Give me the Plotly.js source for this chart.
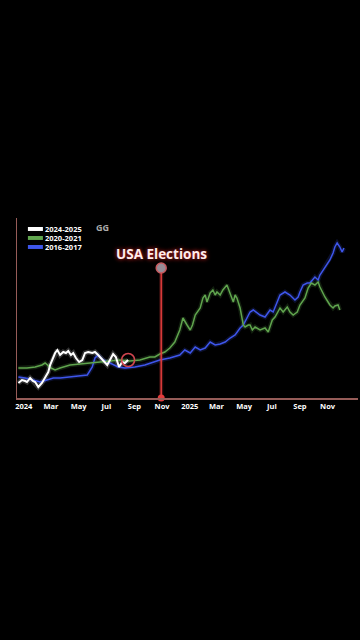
<!DOCTYPE html>
<html>
<head>
<meta charset="utf-8">
<script src="https://cdn.plot.ly/plotly-3.0.1.min.js"></script>
<style>
html,body{margin:0;padding:0;background:#000;}
#chart{width:360px;height:640px;}
</style>
</head>
<body>
<div id="chart"></div>
<script>
// ---- Data (index values, arbitrary units; cycles aligned on the 2024-2025 calendar) ----
const seriesNames = ['2024-2025', '2020-2021', '2016-2017'];

const whiteDates = ['2023-12-20','2023-12-24','2023-12-28','2024-01-04','2024-01-08','2024-01-15','2024-01-21','2024-01-26','2024-02-02','2024-02-10','2024-02-17','2024-02-24','2024-02-28','2024-03-06','2024-03-10','2024-03-15','2024-03-21','2024-03-28','2024-04-03','2024-04-08','2024-04-14','2024-04-19','2024-04-25','2024-05-02','2024-05-09','2024-05-15','2024-05-22','2024-05-31','2024-06-06','2024-06-13','2024-06-19','2024-06-26','2024-07-03','2024-07-09','2024-07-16','2024-07-22','2024-07-29','2024-08-05','2024-08-11','2024-08-18'];
const whiteValues = [15,17,18,17,16,20,17,16,11,15,20,26,33,40,45,48,43,46,45,47,43,45,40,36,38,45,46,45,46,43,40,36,33,38,44,41,31,36,35,38];

const greenDates = ['2023-12-20','2024-01-08','2024-01-26','2024-02-10','2024-02-17','2024-02-24','2024-03-01','2024-03-10','2024-03-21','2024-04-12','2024-05-04','2024-05-26','2024-06-17','2024-07-09','2024-07-31','2024-08-22','2024-09-13','2024-10-05','2024-10-16','2024-10-27','2024-11-07','2024-11-18','2024-11-29','2024-12-10','2024-12-17','2024-12-26','2025-01-02','2025-01-07','2025-01-13','2025-01-24','2025-01-30','2025-02-04','2025-02-08','2025-02-15','2025-02-21','2025-02-26','2025-03-02','2025-03-09','2025-03-15','2025-03-24','2025-03-31','2025-04-07','2025-04-11','2025-04-15','2025-04-22','2025-04-27','2025-04-29','2025-05-03','2025-05-10','2025-05-14','2025-05-19','2025-05-25','2025-06-05','2025-06-16','2025-06-23','2025-07-02','2025-07-08','2025-07-19','2025-07-26','2025-08-04','2025-08-10','2025-08-17','2025-08-26','2025-09-01','2025-09-12','2025-09-19','2025-09-26','2025-10-04','2025-10-11','2025-10-15','2025-10-20','2025-10-26','2025-11-02','2025-11-06','2025-11-13','2025-11-17','2025-11-24','2025-11-28'];
const greenValues = [30,30,31,33,35,32,30,28,30,33,34,35,36,37,38,37,38,41,41,44,46,50,56,68,80,73,68,73,83,90,100,103,96,105,108,103,106,103,108,113,105,96,103,100,90,80,73,71,73,73,68,71,68,70,66,78,81,90,86,91,86,83,86,93,100,110,115,113,116,111,106,101,96,93,90,92,93,88];

const blueDates = ['2023-12-20','2024-01-04','2024-01-21','2024-02-06','2024-02-21','2024-03-06','2024-03-21','2024-04-12','2024-05-04','2024-05-20','2024-05-31','2024-06-06','2024-06-13','2024-06-24','2024-07-09','2024-07-27','2024-08-11','2024-09-02','2024-09-24','2024-10-16','2024-10-27','2024-11-18','2024-12-10','2024-12-21','2025-01-02','2025-01-13','2025-01-24','2025-02-04','2025-02-15','2025-02-26','2025-03-09','2025-03-20','2025-03-31','2025-04-11','2025-04-22','2025-04-29','2025-05-08','2025-05-14','2025-05-21','2025-05-30','2025-06-05','2025-06-16','2025-06-27','2025-07-04','2025-07-13','2025-07-19','2025-07-30','2025-08-10','2025-08-21','2025-08-28','2025-09-01','2025-09-08','2025-09-17','2025-09-23','2025-10-04','2025-10-11','2025-10-15','2025-10-26','2025-11-06','2025-11-13','2025-11-17','2025-11-22','2025-11-28','2025-12-03','2025-12-07'];
const blueValues = [21,20,18,16,18,20,20,21,22,23,31,40,43,38,35,31,30,31,33,36,38,40,43,48,45,51,48,50,56,53,54,56,60,63,70,73,81,86,88,85,83,81,88,86,96,103,106,103,98,101,106,113,115,115,121,118,123,131,138,145,151,155,151,146,150];

const tickDates = ['2024-01-01','2024-03-01','2024-05-01','2024-07-01','2024-09-01','2024-11-01','2025-01-01','2025-03-01','2025-05-01','2025-07-01','2025-09-01','2025-11-01'];
const tickLabels = ['2024','Mar','May','Jul','Sep','Nov','2025','Mar','May','Jul','Sep','Nov'];

const electionDate = '2024-10-30';
const electionLabel = 'USA Elections';
const electionTop = 130;

// ---- Styles ----
const colors = ['#ffffff', 'rgb(96,165,78)', 'rgb(62,86,235)'];
const widths = [2, 1.5, 1.5];
const axisColor = 'rgb(150,92,88)';
const redColor = 'rgb(225,60,60)';

const seriesX = [whiteDates, greenDates, blueDates];
const seriesY = [whiteValues, greenValues, blueValues];

const traces = [];
[2, 1, 0].forEach(i => {
  traces.push({
    x: seriesX[i], y: seriesY[i], type: 'scatter', mode: 'lines',
    line: {color: colors[i], width: widths[i] + 3}, opacity: 0.18,
    hoverinfo: 'skip', showlegend: false
  });
});
[2, 1, 0].forEach(i => {
  traces.push({
    x: seriesX[i], y: seriesY[i], type: 'scatter', mode: 'lines',
    name: seriesNames[i],
    line: {color: colors[i], width: widths[i]},
    showlegend: false
  });
});
traces.push({
  x: [whiteDates[whiteDates.length - 1]], y: [whiteValues[whiteValues.length - 1]],
  type: 'scatter', mode: 'markers',
  marker: {symbol: 'circle-open', size: 13, color: 'rgb(210,70,80)', line: {width: 1.6, color: 'rgb(210,70,80)'}},
  hoverinfo: 'skip', showlegend: false
});
traces.push({
  x: [electionDate, electionDate], y: [0, electionTop], type: 'scatter', mode: 'lines',
  line: {color: redColor, width: 4}, opacity: 0.25, hoverinfo: 'skip', showlegend: false
});
traces.push({
  x: [electionDate, electionDate], y: [0, electionTop], type: 'scatter', mode: 'lines',
  line: {color: redColor, width: 1.5}, hoverinfo: 'skip', showlegend: false
});
traces.push({
  x: [electionDate], y: [0], type: 'scatter', mode: 'markers',
  marker: {size: 7, color: redColor}, hoverinfo: 'skip', showlegend: false, cliponaxis: false
});
traces.push({
  x: [electionDate], y: [electionTop], type: 'scatter', mode: 'markers',
  marker: {size: 10, color: 'rgb(150,140,150)', line: {width: 1.5, color: 'rgb(200,90,95)'}},
  hoverinfo: 'skip', showlegend: false, cliponaxis: false
});

const legendRows = [0.939, 0.889, 0.839];
const shapes = [];
const annotations = [];
seriesNames.forEach((nm, i) => {
  shapes.push({
    type: 'rect', xref: 'paper', yref: 'paper',
    x0: 0.032, x1: 0.076, y0: legendRows[i] - 0.011, y1: legendRows[i] + 0.011,
    fillcolor: colors[i], line: {width: 0}
  });
  annotations.push({
    xref: 'paper', yref: 'paper', x: 0.077, y: legendRows[i], xanchor: 'left', yanchor: 'middle',
    text: nm, showarrow: false,
    font: {family: 'Open Sans, sans-serif', size: 7.5, color: '#ffffff', weight: 700}
  });
});
annotations.push({
  xref: 'paper', yref: 'paper', x: 0.25, y: 0.945, xanchor: 'center', yanchor: 'middle',
  text: 'GG', showarrow: false,
  font: {family: 'Open Sans, sans-serif', size: 9, color: 'rgb(170,170,170)', weight: 700}
});
annotations.push({
  x: electionDate, y: electionTop + 14.5, xref: 'x', yref: 'y', xanchor: 'center', yanchor: 'middle',
  text: electionLabel, showarrow: false,
  font: {family: 'Open Sans, sans-serif', size: 13.5, color: 'rgb(255,236,236)', weight: 700,
         shadow: '0px 0px 4px rgba(255,40,40,0.95)'}
});

const layout = {
  width: 360, height: 640,
  paper_bgcolor: '#000', plot_bgcolor: '#000',
  margin: {l: 17, r: 2, t: 218, b: 242, pad: 0},
  showlegend: false,
  xaxis: {
    type: 'date', range: ['2023-12-17', '2026-01-07'],
    showgrid: false, zeroline: false,
    showline: true, linecolor: axisColor, linewidth: 1.5,
    ticks: '', tickvals: tickDates, ticktext: tickLabels,
    tickfont: {family: 'Open Sans, sans-serif', size: 7.5, color: '#ffffff', weight: 700}
  },
  yaxis: {
    range: [0, 180], showgrid: false, zeroline: false,
    showline: true, linecolor: axisColor, linewidth: 1.5,
    showticklabels: false, ticks: ''
  },
  shapes: shapes,
  annotations: annotations
};

Plotly.newPlot('chart', traces, layout, {displayModeBar: false, staticPlot: true});
</script>
</body>
</html>
